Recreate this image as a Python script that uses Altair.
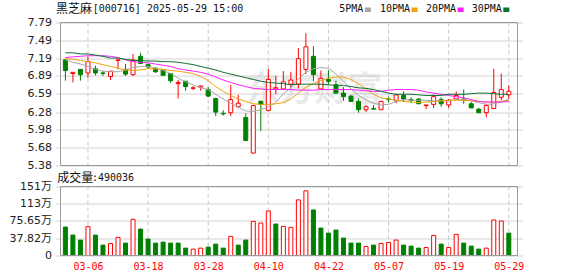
import json
import altair as alt
import pandas as pd

# ---------------- data ----------------
dates = ["03-03", "03-04", "03-05", "03-06", "03-07", "03-10", "03-11", "03-12", "03-13", "03-14",
         "03-17", "03-18", "03-19", "03-20", "03-21", "03-24", "03-25", "03-26", "03-27", "03-28",
         "03-31", "04-01", "04-02", "04-03", "04-07", "04-08", "04-09", "04-10", "04-11", "04-14",
         "04-15", "04-16", "04-17", "04-18", "04-21", "04-22", "04-23", "04-24", "04-25", "04-28",
         "04-29", "04-30", "05-06", "05-07", "05-08", "05-09", "05-12", "05-13", "05-14", "05-15",
         "05-16", "05-19", "05-20", "05-21", "05-22", "05-23", "05-26", "05-27", "05-28", "05-29"]

opens = [7.16, 6.93, 7.00, 6.94, 7.01, 6.94, 6.88, 7.15, 7.00, 6.91,
         7.22, 7.08, 7.02, 6.99, 6.93, 6.76, 6.80, 6.68, 6.70, 6.66,
         6.51, 6.26, 6.27, 6.37, 6.19, 5.59, 6.46, 6.31, 6.67, 6.67,
         6.75, 6.75, 7.00, 7.22, 6.67, 6.83, 6.74, 6.60, 6.55, 6.46,
         6.32, 6.34, 6.32, 6.50, 6.47, 6.56, 6.49, 6.50, 6.39, 6.41,
         6.49, 6.40, 6.50, 6.50, 6.42, 6.33, 6.27, 6.34, 6.53, 6.57]
highs = [7.17, 6.95, 7.00, 7.22, 7.06, 6.97, 6.97, 7.17, 7.09, 7.26,
         7.28, 7.10, 7.03, 7.00, 6.93, 6.82, 6.80, 6.72, 6.73, 6.70,
         6.52, 6.31, 6.74, 6.57, 6.26, 6.40, 6.47, 7.01, 6.89, 6.97,
         6.96, 7.36, 7.61, 7.39, 6.98, 6.99, 6.81, 6.70, 6.57, 6.51,
         6.40, 6.40, 6.46, 6.54, 6.59, 6.63, 6.53, 6.51, 6.40, 6.58,
         6.53, 6.50, 6.63, 6.66, 6.45, 6.35, 6.42, 7.01, 6.93, 6.73]
lows = [6.81, 6.78, 6.81, 6.86, 6.90, 6.89, 6.82, 7.00, 6.89, 6.89,
        7.09, 7.01, 6.94, 6.89, 6.77, 6.51, 6.64, 6.65, 6.64, 6.53,
        6.21, 6.22, 6.21, 6.36, 5.80, 5.58, 5.96, 6.29, 6.58, 6.65,
        6.68, 6.68, 6.92, 6.80, 6.66, 6.75, 6.60, 6.47, 6.45, 6.27,
        6.28, 6.32, 6.32, 6.44, 6.43, 6.45, 6.43, 6.42, 6.33, 6.35,
        6.37, 6.35, 6.49, 6.42, 6.35, 6.27, 6.19, 6.33, 6.48, 6.50]
closes = [6.98, 6.95, 6.91, 7.13, 6.94, 6.93, 6.97, 7.16, 6.92, 7.16,
          7.10, 7.04, 6.96, 6.90, 6.81, 6.78, 6.71, 6.69, 6.72, 6.55,
          6.28, 6.25, 6.49, 6.43, 5.80, 6.39, 6.41, 6.83, 6.69, 6.79,
          6.82, 7.18, 7.38, 6.91, 6.85, 6.80, 6.60, 6.54, 6.46, 6.32,
          6.37, 6.33, 6.46, 6.49, 6.57, 6.50, 6.48, 6.42, 6.40, 6.54,
          6.42, 6.48, 6.56, 6.49, 6.35, 6.27, 6.39, 6.61, 6.66, 6.63]

# volume in 万 (10k)
volumes = [62.4, 44.8, 33.8, 63.2, 44.8, 22.8, 26.4, 39.7, 27.2, 79.3,
           58.0, 36.0, 27.2, 29.4, 27.2, 27.2, 16.2, 14.0, 16.2, 18.4,
           25.0, 16.2, 41.9, 22.8, 33.8, 74.9, 71.2, 97.7, 69.0, 63.9,
           61.7, 121.9, 141.7, 99.9, 60.2, 49.2, 55.8, 38.2, 27.2, 27.2,
           19.8, 22.8, 26.4, 28.6, 33.8, 22.8, 20.6, 16.2, 17.6, 44.1,
           25.0, 17.6, 46.3, 27.2, 20.6, 14.0, 16.2, 77.8, 75.6, 49.0]
vol_dirs = ["down", "down", "down", "up", "down", "down", "up", "up", "down", "up",
            "down", "down", "down", "down", "down", "down", "down", "up", "up", "down",
            "down", "down", "up", "down", "down", "up", "up", "up", "down", "up",
            "up", "up", "up", "down", "down", "down", "down", "down", "down", "down",
            "up", "down", "up", "up", "up", "down", "down", "down", "up", "up",
            "down", "up", "up", "down", "down", "down", "up", "up", "up", "down"]

ma5 = [7.16, 7.12, 7.09, 7.05, 7.00, 6.97, 6.96, 6.96, 6.99, 7.03,
       7.05, 7.05, 7.02, 6.98, 6.93, 6.85, 6.79, 6.74, 6.69, 6.66,
       6.58, 6.50, 6.43, 6.36, 6.30, 6.29, 6.32, 6.37, 6.44, 6.59,
       6.69, 6.84, 6.95, 7.01, 7.03, 7.02, 6.92, 6.80, 6.67, 6.56,
       6.49, 6.43, 6.40, 6.41, 6.46, 6.49, 6.48, 6.48, 6.48, 6.47,
       6.47, 6.47, 6.49, 6.49, 6.47, 6.44, 6.41, 6.42, 6.45, 6.50]
ma10 = [7.18, 7.17, 7.15, 7.13, 7.11, 7.08, 7.05, 7.02, 6.99, 6.98,
        6.99, 7.01, 7.01, 7.00, 6.98, 6.97, 6.95, 6.93, 6.88, 6.81,
        6.71, 6.63, 6.56, 6.50, 6.46, 6.42, 6.41, 6.41, 6.42, 6.44,
        6.50, 6.60, 6.70, 6.76, 6.81, 6.85, 6.87, 6.87, 6.83, 6.76,
        6.67, 6.58, 6.52, 6.50, 6.48, 6.46, 6.45, 6.44, 6.45, 6.46,
        6.47, 6.48, 6.48, 6.48, 6.47, 6.46, 6.45, 6.45, 6.46, 6.48]
ma20 = [7.20, 7.21, 7.22, 7.23, 7.23, 7.23, 7.22, 7.20, 7.16, 7.13,
        7.12, 7.11, 7.09, 7.07, 7.05, 7.01, 6.99, 6.97, 6.95, 6.92,
        6.87, 6.82, 6.78, 6.74, 6.71, 6.68, 6.67, 6.66, 6.66, 6.66,
        6.66, 6.65, 6.65, 6.65, 6.66, 6.66, 6.66, 6.66, 6.66, 6.65,
        6.64, 6.63, 6.63, 6.65, 6.66, 6.66, 6.66, 6.65, 6.62, 6.60,
        6.58, 6.56, 6.54, 6.52, 6.49, 6.46, 6.45, 6.45, 6.45, 6.46]
ma30 = [7.28, 7.28, 7.26, 7.26, 7.24, 7.22, 7.19, 7.19, 7.17, 7.15,
        7.15, 7.14, 7.14, 7.13, 7.13, 7.12, 7.10, 7.08, 7.05, 7.02,
        6.99, 6.95, 6.92, 6.89, 6.86, 6.83, 6.80, 6.78, 6.77, 6.76,
        6.74, 6.75, 6.75, 6.75, 6.75, 6.74, 6.73, 6.73, 6.71, 6.69,
        6.68, 6.66, 6.63, 6.60, 6.58, 6.58, 6.58, 6.57, 6.56, 6.56,
        6.56, 6.58, 6.58, 6.58, 6.59, 6.60, 6.60, 6.59, 6.58, 6.58]

price_ticks = [7.79, 7.49, 7.19, 6.89, 6.59, 6.28, 5.98, 5.68, 5.38]
vol_ticks = [0, 37.82, 75.65, 113.47, 151.29]
vol_tick_labels = ["0", "37.82万", "75.65万", "113万", "151万"]
date_tick_index = [3, 11, 19, 27, 35, 43, 51, 59]
ma_names = ["5PMA", "10PMA", "20PMA", "30PMA"]
ma_colors = ["#a6a6a6", "#f2a20c", "#ff1eff", "#0b7032"]
stock_name = "黑芝麻"
stock_code_time = "[000716] 2025-05-29 15:00"
vol_title = "成交量"
vol_last = ":490036"
watermark = "东方财富"

# ---------------- tables ----------------
n = len(dates)
df = pd.DataFrame({
    "i": list(range(n)), "date": dates, "open": opens, "high": highs, "low": lows,
    "close": closes, "vol": volumes, "vdir": vol_dirs,
    "ma5": ma5, "ma10": ma10, "ma20": ma20, "ma30": ma30,
})
df["dir"] = ["up" if c >= o else "down" for o, c in zip(opens, closes)]
ticks_df = pd.DataFrame({"i": date_tick_index})
one = pd.DataFrame({"k": [0]})

# ---------------- layout / style ----------------
W, H = 467, 233
X_LO, X_HI = -0.651, 60.156
P_LO, P_HI = price_ticks[-1], price_ticks[0]
V_LO, V_HI = vol_ticks[0], vol_ticks[-1]
RED, GREEN = "#ff0000", "#008000"
LABEL_FONT = "DejaVu Sans, Noto Sans CJK SC"
MONO = "DejaVu Sans Mono, Noto Sans CJK SC"
CJK = "Noto Sans CJK SC"

xscale = alt.Scale(domain=[X_LO, X_HI], nice=False, zero=False)
pscale = alt.Scale(domain=[P_LO, P_HI], range=[143, 0], nice=False, zero=False)
vscale = alt.Scale(domain=[V_LO, V_HI], range=[233, 164], nice=False, zero=False)
fill_scale = alt.Scale(domain=["up", "down"], range=["#ffffff", GREEN])
stroke_scale = alt.Scale(domain=["up", "down"], range=[RED, GREEN])

x_expr = json.dumps(dates, ensure_ascii=False) + "[round(datum.value)]"
xaxis = alt.Axis(values=date_tick_index, labelExpr=x_expr, grid=False, domain=False,
                 ticks=False, tickSize=0, labelPadding=6, labelColor=RED, labelFont=MONO,
                 labelFontSize=10, title=None, labelFlush=False)
paxis = alt.Axis(orient="left", values=price_ticks, format=".2f", grid=True,
                 gridColor="#d2d2d2", gridWidth=1, domain=False, ticks=False, tickSize=0,
                 labelPadding=4, labelFont=LABEL_FONT, labelFontSize=11,
                 labelColor="#222222", title=None, labelFlush=False)
vexpr = "'" + vol_tick_labels[-1] + "'"
for k in range(len(vol_ticks) - 2, -1, -1):
    mid = (vol_ticks[k] + vol_ticks[k + 1]) / 2
    vexpr = f"datum.value < {mid} ? '{vol_tick_labels[k]}' : ({vexpr})"
vaxis = alt.Axis(orient="left", values=vol_ticks, labelExpr=vexpr, grid=True,
                 gridColor="#d2d2d2", gridWidth=1, domain=False, ticks=False, tickSize=0,
                 labelPadding=4, labelFont=LABEL_FONT, labelFontSize=11,
                 labelColor="#222222", title=None, labelFlush=False)


def X(f):
    return alt.X(f, type="quantitative", scale=xscale, axis=xaxis)


def XD(v):
    return alt.XDatum(v, type="quantitative", scale=xscale, axis=xaxis)


def PY(f):
    return alt.Y(f, type="quantitative", scale=pscale, axis=paxis)


def PYD(v):
    return alt.YDatum(v, type="quantitative", scale=pscale, axis=paxis)


def VY(f):
    return alt.Y(f, type="quantitative", scale=vscale, axis=vaxis)


def VYD(v):
    return alt.YDatum(v, type="quantitative", scale=vscale, axis=vaxis)


# ---------------- price panel ----------------
p_vrules = alt.Chart(ticks_df).mark_rule(color="#c8c8c8", strokeDash=[4, 3], strokeWidth=1).encode(
    x=X("i"), y=PYD(P_HI), y2=alt.Y2Datum(P_LO))
p_water = alt.Chart(one).mark_text(text=watermark, font=CJK, fontSize=34, fontWeight="bold",
                                   color="#cfcfcf", opacity=0.45, align="center",
                                   baseline="middle").encode(x=alt.value(258.5), y=alt.value(68.5))
wicks = alt.Chart(df).mark_rule(strokeWidth=1).encode(
    x=X("i"), y=PY("low"), y2=alt.Y2("high"),
    stroke=alt.Stroke("dir:N", scale=stroke_scale, legend=None))
bodies = alt.Chart(df).mark_bar(size=4, strokeWidth=1).encode(
    x=X("i"), y=PY("open"), y2=alt.Y2("close"),
    fill=alt.Fill("dir:N", scale=fill_scale, legend=None),
    stroke=alt.Stroke("dir:N", scale=stroke_scale, legend=None))
ma_layers = [
    alt.Chart(df).mark_line(color=c, strokeWidth=1).encode(x=X("i"), y=PY(f))
    for f, c in zip(["ma5", "ma10", "ma20", "ma30"], ma_colors)
]
p_border = alt.Chart(one).mark_rect(fillOpacity=0, stroke="#9a9a9a", strokeWidth=1).encode(
    x=XD(X_LO), x2=alt.X2Datum(X_HI), y=PYD(P_HI), y2=alt.Y2Datum(P_LO))
price = alt.layer(p_vrules, p_water, wicks, bodies, *ma_layers, p_border)

# ---------------- volume panel ----------------
v_vrules = alt.Chart(ticks_df).mark_rule(color="#c8c8c8", strokeDash=[4, 3], strokeWidth=1).encode(
    x=X("i"), y=VYD(V_HI), y2=alt.Y2Datum(V_LO))
vbars = alt.Chart(df).mark_bar(size=4, strokeWidth=1).encode(
    x=X("i"), y=VY("vol"), y2=alt.Y2Datum(0),
    fill=alt.Fill("vdir:N", scale=fill_scale, legend=None),
    stroke=alt.Stroke("vdir:N", scale=stroke_scale, legend=None))
v_border = alt.Chart(one).mark_rect(fillOpacity=0, stroke="#9a9a9a", strokeWidth=1).encode(
    x=XD(X_LO), x2=alt.X2Datum(X_HI), y=VYD(V_HI), y2=alt.Y2Datum(V_LO))
volume = alt.layer(v_vrules, vbars, v_border)

# ---------------- texts: title, legend, volume label ----------------
def label(text, x, y, font, size, color="#111111"):
    return alt.Chart(one).mark_text(text=text, font=font, fontSize=size, color=color,
                                    align="left", baseline="middle").encode(
        x=alt.value(x), y=alt.value(y))


texts = [
    label(stock_name, 0.5, -13.3, CJK, 12),
    label(stock_code_time, 37.2, -13.6, MONO, 10),
    label(vol_title, 1.8, 155.2, CJK, 12),
    label(vol_last, 36.5, 155.5, MONO, 10),
]
legend_text_x = [283.8, 324.5, 370.5, 416.2]
for name, color, tx in zip(ma_names, ma_colors, legend_text_x):
    texts.append(label(name, tx, -13.6, MONO, 10))
    sx = tx + len(name) * 6.02 + 1.5
    texts.append(alt.Chart(one).mark_rect(color=color).encode(
        x=alt.value(sx), x2=alt.value(sx + 6), y=alt.value(-15.0), y2=alt.value(-10.5)))

chart = alt.layer(price, volume, *texts).resolve_scale(y="independent").properties(
    width=W, height=H,
    autosize=alt.AutoSizeParams(type="none"),
    padding={"left": 55.5, "top": 22.5, "right": 55.5, "bottom": 20.5},
    background="#ffffff",
).configure_view(strokeWidth=0)

chart.save("out.html", embed_options={"renderer": "svg", "actions": False})
